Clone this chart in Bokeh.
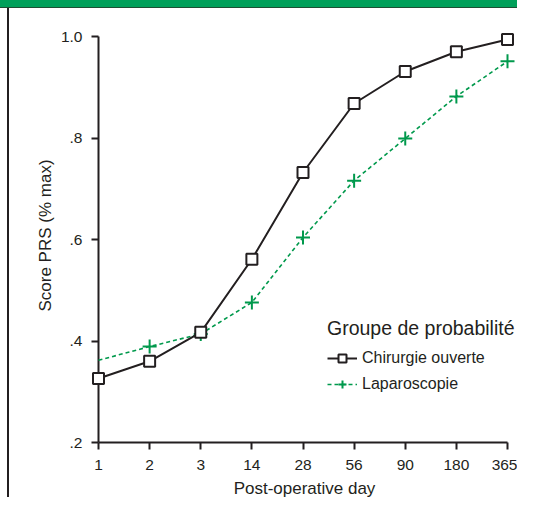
from bokeh.plotting import figure
from bokeh.models import (ColumnDataSource, Legend, LegendItem, FixedTicker, Range1d)
from bokeh.embed import file_html
from bokeh.resources import INLINE

days = ["1", "2", "3", "14", "28", "56", "90", "180", "365"]
chirurgie = [0.326, 0.360, 0.417, 0.561, 0.732, 0.868, 0.931, 0.970, 0.994]
laparo = [0.362, 0.389, 0.414, 0.476, 0.604, 0.716, 0.799, 0.882, 0.951]
y_ticks = [0.2, 0.4, 0.6, 0.8, 1.0]
y_tick_labels = [".2", ".4", ".6", ".8", "1.0"]

GREEN = "#00a05a"
LINE_GREEN = "#00994c"
DARK = "#231f20"
FONT = "Liberation Sans"

pos = list(range(len(days)))
src_c = ColumnDataSource(dict(x=pos, y=chirurgie))
src_l = ColumnDataSource(dict(x=pos, y=laparo))
src_lm = ColumnDataSource(dict(x=pos[1:], y=laparo[1:]))

# 51.125 px per day step, 507.5 px per unit of score
p = figure(width=517, height=497, output_backend="svg", toolbar_location=None,
           x_range=Range1d(pos[0] - 7 / 51.125, pos[-1] + 10 / 51.125),
           y_range=Range1d(y_ticks[0], y_ticks[-1] + 8 / 507.5),
           min_border_left=82, min_border_right=9, min_border_top=20,
           min_border_bottom=63)
p.styles = {"border-top": "7px solid " + GREEN,
            "padding-left": "9px",
            "padding-top": "1px",
            "background": "linear-gradient(to bottom, #1d4f33 1px, transparent 1px), "
                          "linear-gradient(to right, white 7px, #231f20 7px, "
                          "#231f20 9px, white 9px)"}
p.outline_line_color = None
p.grid.grid_line_color = None
p.background_fill_color = "white"
p.border_fill_color = "white"

# axes
p.xaxis.ticker = FixedTicker(ticks=pos)
p.xaxis.major_label_overrides = {i: d for i, d in enumerate(days)}
p.xaxis.bounds = (pos[0], pos[-1])
p.yaxis.ticker = FixedTicker(ticks=y_ticks)
p.yaxis.major_label_overrides = {t: l for t, l in zip(y_ticks, y_tick_labels)}
p.yaxis.bounds = (y_ticks[0], y_ticks[-1])
for ax in (p.xaxis[0], p.yaxis[0]):
    ax.axis_line_color = DARK
    ax.axis_line_width = 2
    ax.major_tick_line_color = DARK
    ax.major_tick_line_width = 2
    ax.minor_tick_line_color = None
    ax.major_label_text_font = FONT
    ax.major_label_text_font_size = "15.5px"
    ax.major_label_text_color = DARK
    ax.axis_label_text_font = FONT
    ax.axis_label_text_font_size = "17px"
    ax.axis_label_text_font_style = "normal"
    ax.axis_label_text_color = DARK
p.xaxis.major_tick_out = 7
p.xaxis.major_tick_in = 0
# y ticks drawn inward from the frame edge up to the y rule at day 1
p.yaxis.major_tick_out = 0
p.yaxis.major_tick_in = 7
p.yaxis.axis_line_color = None
p.xaxis.axis_label = "Post-operative day"
p.yaxis.axis_label = "Score PRS (% max)"
p.xaxis.major_label_standoff = 10
p.yaxis.major_label_standoff = 9
p.xaxis.axis_label_standoff = 6
p.yaxis.axis_label_standoff = 3

# y rule at the first day
p.line(x=[pos[0], pos[0]], y=[y_ticks[0], y_ticks[-1]], line_color=DARK,
       line_width=2)

# series
rl = p.line("x", "y", source=src_l, line_color=LINE_GREEN, line_width=1.6,
            line_dash="4 3")
rlm = p.scatter("x", "y", source=src_lm, marker="cross", size=14,
                line_color=LINE_GREEN, line_width=2)
rc = p.line("x", "y", source=src_c, line_color=DARK, line_width=2)
rcm = p.scatter("x", "y", source=src_c, marker="square", size=11,
                fill_color="white", line_color=DARK, line_width=2)

legend = Legend(items=[
    LegendItem(label="Chirurgie ouverte", renderers=[rc, rcm]),
    LegendItem(label="Laparoscopie", renderers=[rl, rlm]),
], location=(236, 48))
legend.title = "Groupe de probabilité"
legend.title_text_font = FONT
legend.title_text_font_size = "19.5px"
legend.title_text_font_style = "normal"
legend.title_text_color = DARK
legend.title_standoff = 8
legend.label_text_font = FONT
legend.label_text_font_size = "16px"
legend.label_text_color = DARK
legend.border_line_color = None
legend.background_fill_alpha = 0
legend.padding = 0
legend.margin = 0
legend.spacing = 6
legend.glyph_width = 30
legend.label_standoff = 5
p.add_layout(legend)

open("out.html", "w").write(file_html(p, INLINE))
